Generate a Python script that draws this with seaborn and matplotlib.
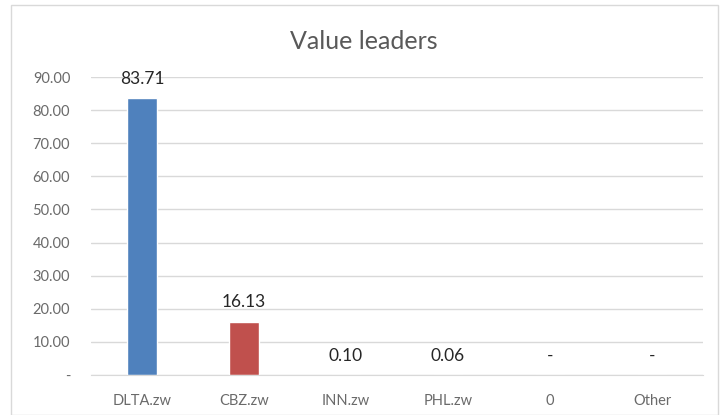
import matplotlib.pyplot as plt
import seaborn as sns
import pandas as pd
from matplotlib.patches import Rectangle

categories = ["DLTA.zw", "CBZ.zw", "INN.zw", "PHL.zw", "0", "Other"]
values = [83.71, 16.13, 0.10, 0.06, 0.0, 0.0]
bar_colors = ["#4F81BD", "#C0504D", "#4F81BD", "#4F81BD", "#4F81BD", "#4F81BD"]
y_ticks = [0, 10, 20, 30, 40, 50, 60, 70, 80, 90]

df = pd.DataFrame({"ticker": categories, "value": values})

sns.set_style("white")
plt.rcParams["font.family"] = ["Lato", "DejaVu Sans"]

fig = plt.figure(figsize=(7.28, 4.15), dpi=100)
# chart frame, Excel style
fig.patches.append(Rectangle((11 / 728, 0), 707 / 728, 410 / 415, transform=fig.transFigure,
                             fill=False, edgecolor="#D9D9D9", linewidth=1))
ax = fig.add_axes([91 / 728, 40 / 415, 612 / 728, 298 / 415])

sns.barplot(data=df, x="ticker", y="value", hue="ticker", palette=bar_colors,
            width=0.29, legend=False, ax=ax, saturation=1)

ax.set_ylim(0, 90)
ax.set_yticks(y_ticks)
ax.set_yticklabels(["-"] + [f"{t:.2f}" for t in y_ticks[1:]])
ax.yaxis.grid(True, color="#D9D9D9", linewidth=1)
ax.set_axisbelow(True)
for side in ["top", "right", "left"]:
    ax.spines[side].set_visible(False)
ax.spines["bottom"].set_color("#D9D9D9")
ax.tick_params(axis="both", length=0, labelsize=10.5, colors="#6A6A6A")
ax.tick_params(axis="y", pad=15)
ax.tick_params(axis="x", pad=14)
ax.set_xlabel("")
ax.set_ylabel("")

for i, v in enumerate(values):
    label = f"{v:.2f}" if v > 0 else "-"
    ax.annotate(label, (i, v), xytext=(0, 8), textcoords="offset points",
                ha="center", va="bottom", fontsize=12.5, color="#262626")

fig.text(0.5, 0.9, "Value leaders", ha="center", va="center", fontsize=18, color="#595959")

fig.savefig("out.png", dpi=100)
